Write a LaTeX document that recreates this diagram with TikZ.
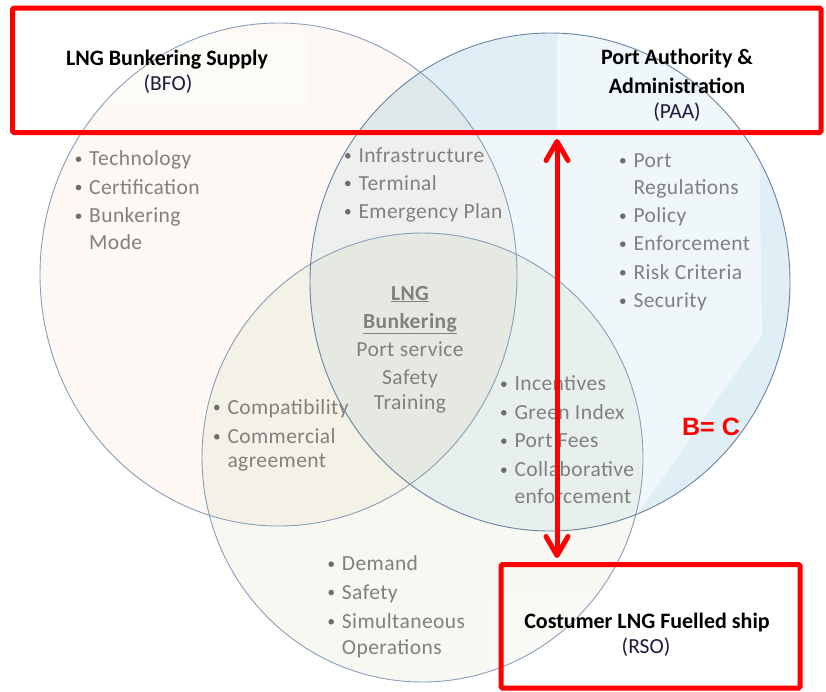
\documentclass[tikz,border=0pt]{standalone}
\usepackage{fontspec}
\setmainfont{Carlito}
\newfontfamily\arialfam{Liberation Sans}
\newfontfamily\spaced[LetterSpace=2]{Carlito}
\usetikzlibrary{arrows.meta}
\definecolor{redbox}{HTML}{FF0000}
\definecolor{txtgray}{HTML}{808080}
\definecolor{bulgray}{HTML}{6E6E6E}
\definecolor{lfill}{HTML}{FDF8F4}
\definecolor{rdark}{HTML}{E0EFF5}
\definecolor{rlight}{HTML}{F0F7FA}
\definecolor{bfill}{HTML}{F6F8F1}
\definecolor{ringline}{HTML}{8A9EBC}
\definecolor{ringdark}{HTML}{5C7499}
\definecolor{subtxt}{HTML}{1A1A3A}
\tikzset{
  lst/.style={font=\spaced\fontsize{21.5}{28}\selectfont, text=txtgray, inner sep=0pt, anchor=base west},
  ctr/.style={font=\spaced\fontsize{21.5}{28}\selectfont, text=txtgray, inner sep=0pt, anchor=base},
  ttl/.style={font=\fontsize{22}{26}\selectfont\bfseries, text=black, inner sep=0pt, anchor=base},
  sub/.style={font=\fontsize{21.5}{26}\selectfont, text=subtxt, inner sep=0pt, anchor=base},
  redframe/.style={draw=redbox, line width=5pt, inner sep=0pt, rounded corners=1.5pt},
  ring/.style={draw=ringline, line width=0.9pt},
  redarrow/.style={draw=redbox, line width=5pt,
    {Straight Barb[length=19pt,width=22pt,round]}-{Straight Barb[length=19pt,width=22pt,round]}},
}
\newcommand\bitem[4]{\node[lst] (#1) at (#2,#3) {#4};
  \fill[bulgray] ([shift={(-10.5pt,6.5pt)}]#1.base west) circle (2.8pt);}
\begin{document}
\begin{tikzpicture}[x=1pt,y=-1pt]
\useasboundingbox (0,0) rectangle (826,691);
% right circle with its shading
\begin{scope}
  \clip (550,282) ellipse [x radius=240pt, y radius=249pt];
  \fill[rdark] (550,282) ellipse [x radius=240pt, y radius=249pt];
  \fill[rlight] (557,0) -- (757,0) -- (762,335) -- (637,515) -- (637,620)
     -- (300,620) -- (300,133) -- (557,133) -- cycle;
\end{scope}
% left and bottom circles
\fill[lfill, blend mode=multiply] (278.5,274.5) ellipse [x radius=238.5pt, y radius=251.5pt];
\fill[bfill, blend mode=multiply] (422.5,457.5) ellipse [x radius=220.5pt, y radius=224.5pt];
% faint text boxes
\fill[white, opacity=0.45] (103,33) rectangle (308,106);
\fill[white, opacity=0.4] (490,597) rectangle (790,691);
% outlines
\draw[ring] (278.5,274.5) ellipse [x radius=238.5pt, y radius=251.5pt];
\draw[ring] (422.5,457.5) ellipse [x radius=220.5pt, y radius=224.5pt];
\draw[ring, draw=ringdark!70!ringline] (550,282) ellipse [x radius=240pt, y radius=249pt];

% lists
\bitem{t1}{89}{165.7}{Technology}
\bitem{t2}{89}{194}{Certification}
\bitem{t3}{89}{222.7}{Bunkering}
\node[lst] (t4) at (89,249.3) {Mode};

\bitem{i1}{358.3}{162.3}{Infrastructure}
\bitem{i2}{358.3}{190}{Terminal}
\bitem{i3}{358.3}{218.3}{Emergency Plan}

\bitem{p1}{633.3}{167.3}{Port}
\node[lst] (p2) at (633.3,194) {Regulations};
\bitem{p3}{633.3}{222.7}{Policy}
\bitem{p4}{633.3}{250.7}{Enforcement}
\bitem{p5}{633.3}{279.3}{Risk Criteria}
\bitem{p6}{633.3}{307.7}{Security}

\bitem{c1}{227.3}{414}{Compatibility}
\bitem{c2}{227.3}{443.3}{Commercial}
\node[lst] (c3) at (227.3,467.3) {agreement};

\bitem{g1}{514.3}{390.7}{Incentives}
\bitem{g2}{514.3}{419.3}{Green Index}
\bitem{g3}{514.3}{447.7}{Port Fees}
\bitem{g4}{514.3}{476.7}{Collaborative}
\node[lst] (g5) at (514.3,503.3) {enforcement};

\bitem{d1}{341.7}{570.7}{Demand}
\bitem{d2}{341.7}{599}{Safety}
\bitem{d3}{341.7}{628.3}{Simultaneous}
\node[lst] (d4) at (341.7,654.3) {Operations};

% centre
\node[ctr, font=\spaced\fontsize{21.5}{28}\selectfont\bfseries] (m1) at (410,300) {\underline{LNG}};
\node[ctr, font=\spaced\fontsize{21.5}{28}\selectfont\bfseries] (m2) at (410,328) {\underline{Bunkering}};
\node[ctr] (m3) at (410,356.7) {Port service};
\node[ctr] (m4) at (410,384) {Safety};
\node[ctr] (m5) at (410,409.5) {Training};

% red frames
\node[redframe, minimum width=808.5pt, minimum height=124.5pt] (topbox) at (416.75,70.25) {};
\node[redframe, minimum width=299pt, minimum height=123.5pt] (botbox) at (650.5,626.25) {};

% titles
\node[ttl] (bfo) at (167,65) {LNG Bunkering Supply};
\node[sub] (bfosub) at (168,90) {(BFO)};
\node[ttl] (paa1) at (677,64) {Port Authority \&};
\node[ttl] (paa2) at (677,93.3) {Administration};
\node[sub] (paasub) at (677,118.3) {(PAA)};
\node[ttl] (rso) at (647,628.3) {Costumer LNG Fuelled ship};
\node[sub] (rsosub) at (646,653.3) {(RSO)};

% arrow
\coordinate (ax) at (557,0);
\path (topbox.south -| ax) coordinate (a1);
\path (botbox.north -| ax) coordinate (a2);
\draw[redarrow] ([yshift=-4pt]a1) -- ([yshift=4pt]a2);

\node[font=\arialfam\bfseries\fontsize{25}{30}\selectfont, text=redbox, inner sep=0pt, anchor=base] (bc) at (711,435) {B= C};
\end{tikzpicture}
\end{document}
